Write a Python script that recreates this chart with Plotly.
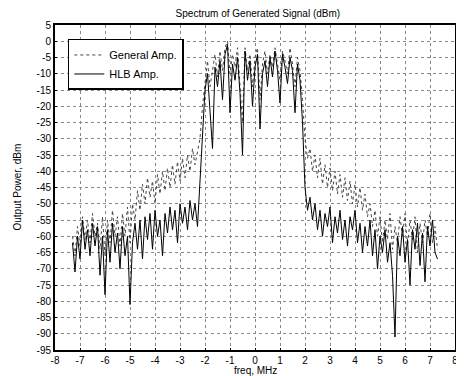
import plotly.graph_objects as go

freq_mhz = [
    -7.3, -7.2, -7.1, -7.0, -6.9, -6.8, -6.7, -6.6, -6.5, -6.4,
    -6.3, -6.2, -6.1, -6.0, -5.9, -5.8, -5.7, -5.6, -5.5, -5.4,
    -5.3, -5.2, -5.1, -5.0, -4.9, -4.8, -4.7, -4.6, -4.5, -4.4,
    -4.3, -4.2, -4.1, -4.0, -3.9, -3.8, -3.7, -3.6, -3.5, -3.4,
    -3.3, -3.2, -3.1, -3.0, -2.9, -2.8, -2.7, -2.6, -2.5, -2.4,
    -2.3, -2.2, -2.1, -2.0, -1.9, -1.8, -1.7, -1.6, -1.5, -1.4,
    -1.3, -1.2, -1.1, -1.0, -0.9, -0.8, -0.7, -0.6, -0.5, -0.4,
    -0.3, -0.2, -0.1, 0.0, 0.1, 0.2, 0.3, 0.4, 0.5, 0.6,
    0.7, 0.8, 0.9, 1.0, 1.1, 1.2, 1.3, 1.4, 1.5, 1.6,
    1.7, 1.8, 1.9, 2.0, 2.1, 2.2, 2.3, 2.4, 2.5, 2.6,
    2.7, 2.8, 2.9, 3.0, 3.1, 3.2, 3.3, 3.4, 3.5, 3.6,
    3.7, 3.8, 3.9, 4.0, 4.1, 4.2, 4.3, 4.4, 4.5, 4.6,
    4.7, 4.8, 4.9, 5.0, 5.1, 5.2, 5.3, 5.4, 5.5, 5.6,
    5.7, 5.8, 5.9, 6.0, 6.1, 6.2, 6.3, 6.4, 6.5, 6.6,
    6.7, 6.8, 6.9, 7.0, 7.1, 7.2, 7.3,
]

general_dbm = [
    -60, -66, -57, -63, -54, -61, -55, -62, -53, -60,
    -56, -64, -54, -66, -55, -62, -52, -60, -54, -63,
    -53, -60, -51, -62, -50, -55, -46, -52, -44, -50,
    -42, -48, -43, -50, -41, -47, -40, -46, -39, -45,
    -38, -44, -37, -43, -36, -42, -35, -40, -33, -38,
    -34, -30, -20, -12, -6, -14, -9, -4, -11, -3,
    -9, -2, 0, -10, -4, -8, -2, -12, -25, -2,
    -9, -4, -14, -5, -2, -18, -7, -3, -10, -4,
    -8, -2, -7, -12, -3, -6, -10, -2, -7, -14,
    -5, -9, -18, -30, -36, -33, -40, -35, -42, -36,
    -44, -38, -45, -39, -46, -40, -47, -41, -48, -42,
    -49, -43, -50, -44, -51, -45, -52, -47, -54, -50,
    -57, -52, -60, -54, -62, -55, -61, -53, -64, -57,
    -62, -54, -60, -53, -63, -55, -61, -54, -65, -56,
    -62, -55, -60, -53, -62, -57, -64,
]

hlb_dbm = [
    -62, -71, -60, -67, -55, -64, -58, -66, -56, -63,
    -57, -72, -60, -78, -58, -68, -56, -65, -59, -70,
    -57, -66, -60, -81, -62, -56, -64, -55, -67, -54,
    -61, -53, -64, -52, -60, -55, -66, -53, -59, -51,
    -58, -52, -62, -50, -56, -51, -58, -49, -55, -50,
    -57, -42, -28, -15, -10, -20, -33, -8, -14, -6,
    -18, -4, -1, -22, -7, -12, -5, -16, -35, -3,
    -12, -6, -20, -8, -4, -27, -10, -6, -14, -5,
    -11, -3, -9, -19, -4, -8, -13, -5, -9, -22,
    -7, -12, -25, -45, -52, -48, -55, -50, -58, -52,
    -60, -53, -57, -51, -62, -54, -59, -52, -61, -55,
    -63, -54, -58, -52, -62, -56, -65, -57, -63, -55,
    -66, -58, -70, -60, -65, -58, -68, -62, -72, -91,
    -60, -66, -57, -68, -61, -75, -58, -64, -56, -69,
    -59, -74, -57, -63, -55, -65, -67,
]

x_ticks = [-8, -7, -6, -5, -4, -3, -2, -1, 0, 1, 2, 3, 4, 5, 6, 7, 8]
y_ticks = [5, 0, -5, -10, -15, -20, -25, -30, -35, -40, -45, -50,
           -55, -60, -65, -70, -75, -80, -85, -90, -95]

fig = go.Figure()
fig.add_trace(go.Scatter(
    x=freq_mhz, y=general_dbm, mode="lines", name="General Amp.",
    line=dict(color="#444444", width=1, dash="dot"),
))
fig.add_trace(go.Scatter(
    x=freq_mhz, y=hlb_dbm, mode="lines", name="HLB Amp.",
    line=dict(color="black", width=1),
))

font_family = "Liberation Sans, Arial, sans-serif"

# The page body has an 8px default margin, so the figure is sized to fit inside it.
fig.update_layout(
    width=456, height=368,
    margin=dict(l=47, r=9, t=17, b=26, autoexpand=False),
    paper_bgcolor="white", plot_bgcolor="white",
    title=dict(text="Spectrum of Generated Signal (dBm)", x=0.548, xanchor="center",
               y=0.984, yanchor="middle",
               font=dict(family=font_family, size=10, color="black")),
    font=dict(family=font_family, size=10, color="black"),
    showlegend=True,
    legend=dict(x=0.032, y=0.957, xanchor="left", yanchor="top",
                bgcolor="white", bordercolor="black", borderwidth=1.5,
                font=dict(family=font_family, size=11, color="black"),
                itemwidth=30, tracegroupgap=2),
    annotations=[
        dict(text="freq, MHz", xref="paper", yref="paper", x=0.5, y=0,
             xanchor="center", yanchor="top", yshift=-13, showarrow=False,
             font=dict(family=font_family, size=10, color="black")),
        dict(text="Output Power, dBm", xref="paper", yref="paper", x=0, y=0.5,
             xanchor="center", yanchor="middle", xshift=-38, textangle=-90,
             showarrow=False,
             font=dict(family=font_family, size=10, color="black")),
    ],
)

fig.update_xaxes(
    range=[-8, 8], tickvals=x_ticks, ticktext=[str(v) for v in x_ticks],
    automargin=False,
    showgrid=True, gridcolor="#888888", griddash="dot", gridwidth=1,
    zeroline=False, showline=True, linecolor="black", linewidth=2, mirror=True,
    ticks="inside", ticklen=2, tickcolor="black",
    tickfont=dict(family=font_family, size=10, color="black"),
)
fig.update_yaxes(
    range=[-95, 5], tickvals=y_ticks, ticktext=[str(v) for v in y_ticks],
    automargin=False,
    showgrid=True, gridcolor="#888888", griddash="dot", gridwidth=1,
    zeroline=False, showline=True, linecolor="black", linewidth=2, mirror=True,
    ticks="inside", ticklen=2, tickcolor="black",
    tickfont=dict(family=font_family, size=10, color="black"),
)

fig.write_html("out.html")
